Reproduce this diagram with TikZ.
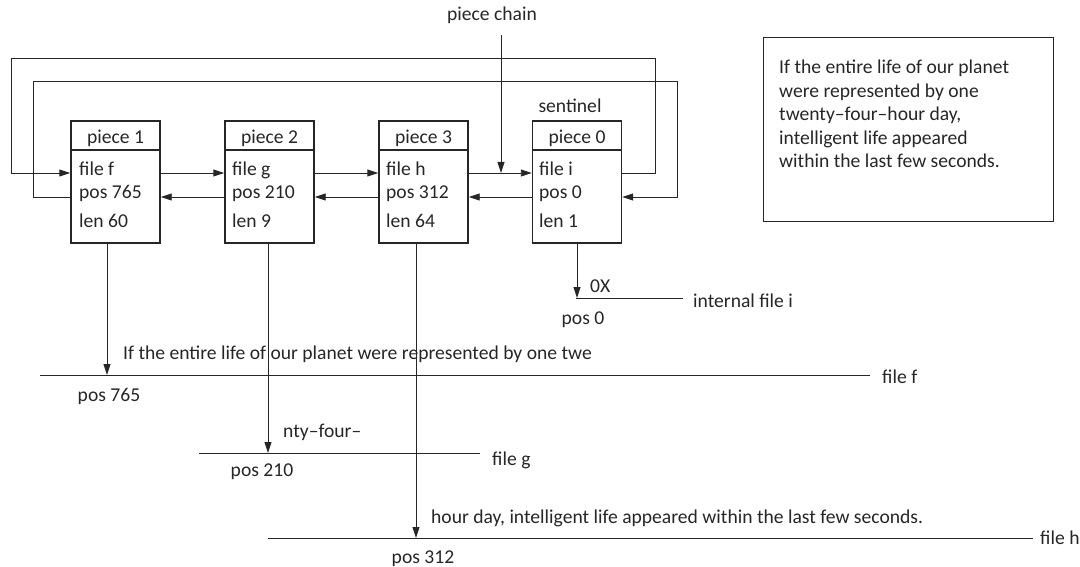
\documentclass[tikz,border=0pt]{standalone}
\usepackage{fontspec}
\setmainfont{Carlito}
\usetikzlibrary{arrows.meta}
\definecolor{ink}{gray}{0.15}
\begin{document}
\begin{tikzpicture}[x=1pt,y=-1pt,
  every node/.style={font=\fontsize{19.6}{23}\selectfont, inner sep=0pt, text=ink},
  box/.style={draw=ink, line width=1.4pt, minimum width=89pt, minimum height=122pt},
  hdr/.style={draw=ink, line width=1.4pt},
  ln/.style={draw=ink, line width=0.9pt},
  arr/.style={draw=ink, line width=0.9pt, -{Triangle[length=11pt,width=7pt]}},
  lbl/.style={anchor=base west},
  ctr/.style={anchor=base},
]
\useasboundingbox (0,0) rectangle (1080,567);

% boxes
\node[box] (p1) at (115.5,182) {};
\node[box] (p2) at (269.5,182) {};
\node[box] (p3) at (423.5,182) {};
\node[box] (p0) at (577,182) {};
\foreach \b in {p1,p2,p3,p0}{
  \draw[hdr] (\b.west |- 0,150) -- (\b.east |- 0,150);
}

% headers
\node[ctr] (h1) at (115.5,144) {piece 1};
\node[ctr] (h2) at (269.5,144) {piece 2};
\node[ctr] (h3) at (423.5,144) {piece 3};
\node[ctr] (h0) at (577,144) {piece 0};
\node[ctr] (sent) at (570,113) {sentinel};

% fields
\node[lbl] (f1) at (79,176) {file f};
\node[lbl] (q1) at (79,199) {pos 765};
\node[lbl] (l1) at (79,228) {len 60};
\node[lbl] (f2) at (232,176) {file g};
\node[lbl] (q2) at (232,199) {pos 210};
\node[lbl] (l2) at (232,228) {len 9};
\node[lbl] (f3) at (386,176) {file h};
\node[lbl] (q3) at (386,199) {pos 312};
\node[lbl] (l3) at (386,228) {len 64};
\node[lbl] (f0) at (539,176) {file i};
\node[lbl] (q0) at (539,199) {pos 0};
\node[lbl] (l0) at (539,228) {len 1};

% next pointers (file row)
\draw[arr] (p1.east |- 0,173) -- (p2.west |- 0,173);
\draw[arr] (p2.east |- 0,173) -- (p3.west |- 0,173);
\draw[arr] (p3.east |- 0,173) -- (p0.west |- 0,173);
\draw[arr] (p0.east |- 0,173) -- (655,173) -- (655,58) -- (11,58) -- (11,173) -- (p1.west |- 0,173);

% prev pointers (pos row)
\draw[arr] (p2.west |- 0,197) -- (p1.east |- 0,197);
\draw[arr] (p3.west |- 0,197) -- (p2.east |- 0,197);
\draw[arr] (p0.west |- 0,197) -- (p3.east |- 0,197);
\draw[arr] (p1.west |- 0,197) -- (33,197) -- (33,81) -- (677,81) -- (677,197) -- (p0.east |- 0,197);

% piece chain
\node[ctr] (pc) at (492,21) {piece chain};
\coordinate (pcs) at (501,35);
\coordinate (pce) at (501,173);
\draw[arr] (pcs) -- (pce);

% note box
\node[draw=ink, line width=0.9pt, minimum width=290pt, minimum height=184pt] (note) at (908,129) {};
\node[lbl] (n1) at (779,74) {If the entire life of our planet};
\node[lbl] (n2) at (779,97.5) {were represented by one};
\node[lbl] (n3) at (779,121) {twenty–four–hour day,};
\node[lbl] (n4) at (779,144.5) {intelligent life appeared};
\node[lbl] (n5) at (779,168) {within the last few seconds.};

% file lines
\coordinate (fa) at (40,375);  \coordinate (fb) at (870,375);
\coordinate (ga) at (199,453); \coordinate (gb) at (480,453);
\coordinate (ha) at (268,538); \coordinate (hb) at (1033,538);
\coordinate (ia) at (576,298); \coordinate (ib) at (683,298);
\draw[ln] (fa) -- (fb);
\draw[ln] (ga) -- (gb);
\draw[ln] (ha) -- (hb);
\draw[ln] (ia) -- (ib);

% down arrows
\coordinate (d1) at (107,375);
\coordinate (d2) at (268,453);
\coordinate (d3) at (416,538);
\coordinate (d0) at (577,298);
\draw[arr] (p1.south -| d1) -- (d1);
\draw[arr] (p2.south -| d2) -- (d2);
\draw[arr] (p3.south -| d3) -- (d3);
\draw[arr] (p0.south -| d0) -- (d0);

% labels
\node[lbl] (tf) at (123,359) {If the entire life of our planet were represented by one twe};
\node[ctr] (pf) at (109,401) {pos 765};
\node[lbl] (lf) at (882,383) {file f};
\node[lbl] (tg) at (283,437) {nty–four–};
\node[ctr] (pg) at (262,476) {pos 210};
\node[lbl] (lg) at (492,465) {file g};
\node[lbl] (th) at (431,523) {hour day, intelligent life appeared within the last few seconds.};
\node[ctr] (ph) at (423,563) {pos 312};
\node[lbl] (lh) at (1040,544) {file h};
\node[lbl] (ox) at (590,292) {0X};
\node[lbl] (li) at (693,307) {internal file i};
\node[ctr] (pi) at (583,324) {pos 0};
\end{tikzpicture}
\end{document}
